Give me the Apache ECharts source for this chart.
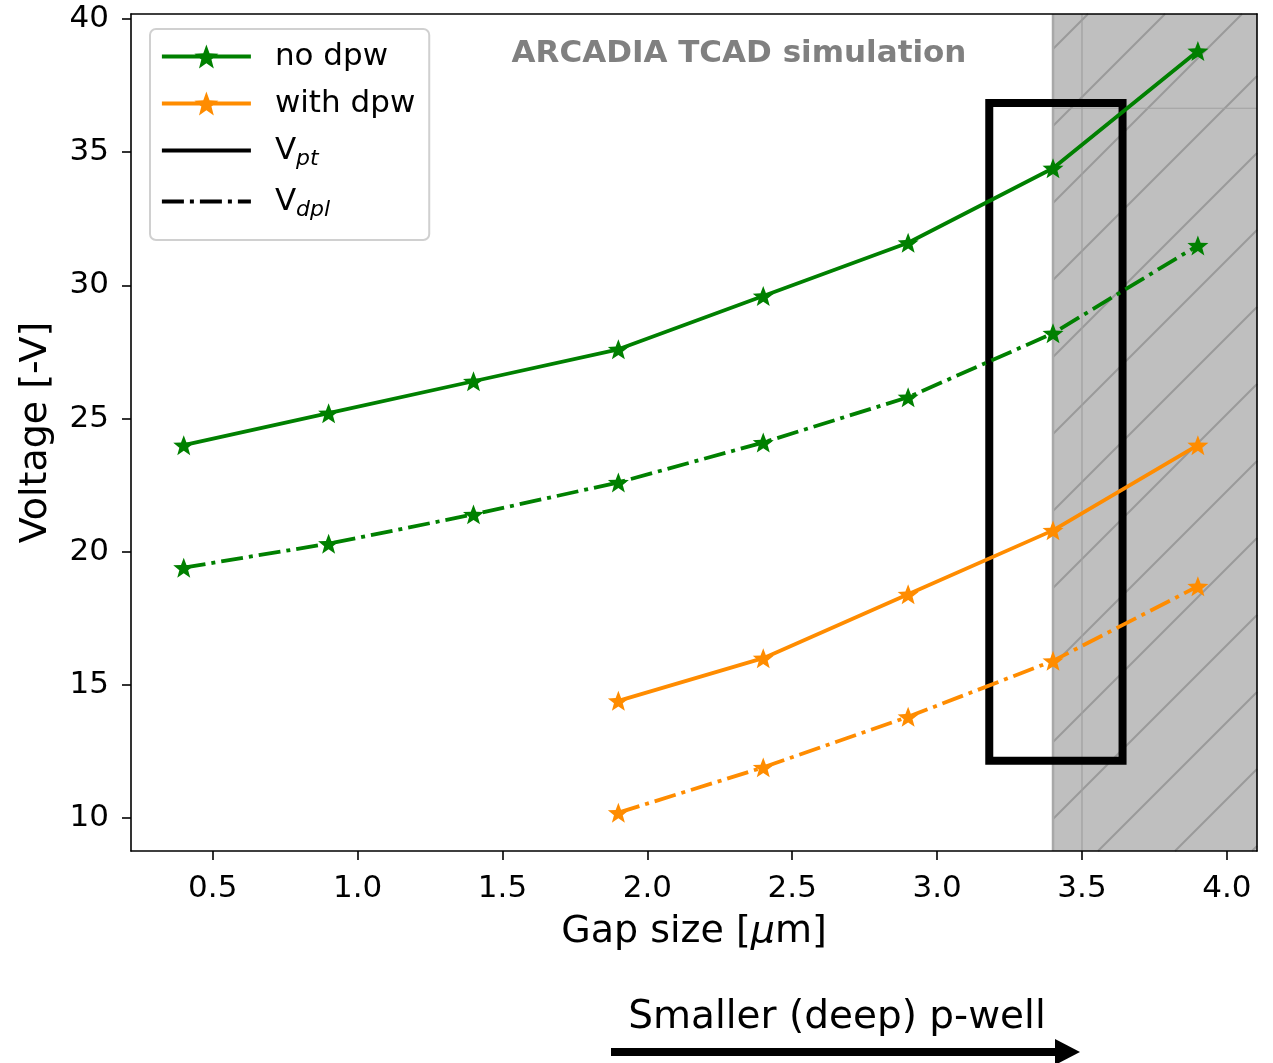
<!DOCTYPE html>
<html>
<head>
<meta charset="utf-8">
<script src="https://cdn.jsdelivr.net/npm/echarts@6/dist/echarts.min.js"></script>
<style>html,body{margin:0;padding:0;background:#fff}#c{width:1273px;height:1063px}</style>
</head>
<body>
<div id="c"></div>
<script>
// ---- data ----
const gapSize = [0.4, 0.9, 1.4, 1.9, 2.4, 2.9, 3.4, 3.9];
const noDpwVpt = [24.0, 25.2, 26.4, 27.6, 29.6, 31.6, 34.4, 38.8];
const noDpwVdpl = [19.4, 20.3, 21.4, 22.6, 24.1, 25.8, 28.2, 31.5];
const gapSizeDpw = [1.9, 2.4, 2.9, 3.4, 3.9];
const withDpwVpt = [14.4, 16.0, 18.4, 20.8, 24.0];
const withDpwVdpl = [10.2, 11.9, 13.8, 15.9, 18.7];
const xTicks = [0.5, 1.0, 1.5, 2.0, 2.5, 3.0, 3.5, 4.0];
const yTicks = [10, 15, 20, 25, 30, 35, 40];
const xRange = [0.218, 4.104];
const yRange = [8.76, 40.19];
const shadedSpan = [3.4, 3.5, 36.65];      // span start, inner ref line x, inner ref line y
const highlightBox = [3.18, 12.15, 3.64, 36.85]; // x0, y0, x1, y1

const pairs = (xs, ys) => xs.map((x, i) => [x, ys[i]]);

function starPath() {
  const pts = [];
  for (let i = 0; i < 10; i++) {
    const r = i % 2 === 0 ? 1 : 0.42;
    const a = -Math.PI / 2 + i * Math.PI / 5;
    pts.push((r * Math.cos(a)).toFixed(4) + ' ' + (r * Math.sin(a)).toFixed(4));
  }
  return 'path://M' + pts.join(' L') + ' Z';
}
const STAR = starPath();
const GREEN = '#008000', ORANGE = '#ff8c00';
const DASHDOT = [22, 6, 4, 6];
const FONT = 'DejaVu Sans';

const chart = echarts.init(document.getElementById('c'), null, {renderer: 'canvas'});

function lineSeries(name, xs, ys, color, dash) {
  return {
    name, type: 'line', data: pairs(xs, ys), z: 5,
    symbol: STAR, symbolSize: 21, symbolKeepAspect: true,
    lineStyle: {color, width: 3.8, type: dash ? DASHDOT : 'solid'},
    itemStyle: {color},
    emphasis: {disabled: true}, animation: false
  };
}

const option = {
  animation: false,
  grid: {left: 131, right: 16, top: 14, bottom: 212},
  xAxis: [{
    type: 'value', min: xRange[0], max: xRange[1], z: 10,
    axisLine: {show: true, onZero: false, lineStyle: {color: '#000', width: 1.6}},
    axisTick: {show: true, length: 9, lineStyle: {color: '#000', width: 1.6}, customValues: xTicks},
    axisLabel: {fontFamily: FONT, fontSize: 31, color: '#000', margin: 22, customValues: xTicks,
      formatter: v => v.toFixed(1)},
    splitLine: {show: false},
    name: 'Gap size [{i|μ}m]', nameLocation: 'middle', nameGap: 62,
    nameTextStyle: {fontFamily: FONT, fontSize: 38, color: '#000',
      rich: {i: {fontFamily: FONT, fontSize: 38, fontStyle: 'italic', color: '#000'}}}
  }, {
    type: 'value', position: 'top', min: xRange[0], max: xRange[1], z: 10,
    axisLine: {show: true, onZero: false, lineStyle: {color: '#000', width: 1.6}},
    axisTick: {show: false}, axisLabel: {show: false}, splitLine: {show: false}
  }],
  yAxis: [{
    type: 'value', min: yRange[0], max: yRange[1], z: 10,
    axisLine: {show: true, onZero: false, lineStyle: {color: '#000', width: 1.6}},
    axisTick: {show: true, length: 9, lineStyle: {color: '#000', width: 1.6}, customValues: yTicks},
    axisLabel: {fontFamily: FONT, fontSize: 31, color: '#000', margin: 22, customValues: yTicks},
    splitLine: {show: false},
    name: 'Voltage [-V]', nameLocation: 'middle', nameGap: 76,
    nameTextStyle: {fontFamily: FONT, fontSize: 38, color: '#000'}
  }, {
    type: 'value', position: 'right', min: yRange[0], max: yRange[1], z: 10,
    axisLine: {show: true, onZero: false, lineStyle: {color: '#000', width: 1.6}},
    axisTick: {show: false}, axisLabel: {show: false}, splitLine: {show: false}
  }],
  legend: {
    orient: 'vertical', left: 150, top: 29,
    data: ['no dpw', 'with dpw', 'Vpt', 'Vdpl'],
    itemWidth: 89, itemHeight: 30, itemGap: 16,
    padding: [12, 14, 19, 10],
    backgroundColor: 'rgba(255,255,255,0.85)',
    borderColor: '#d0d0d0', borderWidth: 2, borderRadius: 6,
    selectedMode: false,
    lineStyle: {width: 3.8},
    textStyle: {fontFamily: FONT, fontSize: 31, color: '#000', padding: [0, 0, 0, 19],
      rich: {
        v: {fontFamily: FONT, fontSize: 31, color: '#000'},
        s: {fontFamily: FONT, fontSize: 22, fontStyle: 'italic', color: '#000', padding: [17, 0, 0, 0]}
      }},
    formatter: n => n === 'Vpt' ? '{v|V}{s|pt}' : (n === 'Vdpl' ? '{v|V}{s|dpl}' : n)
  },
  graphic: [
    {type: 'text', z: 20, x: 739, y: 54,
      style: {text: 'ARCADIA TCAD simulation', fontFamily: FONT, fontSize: 31, fontWeight: 'bold',
        fill: '#808080', align: 'center', verticalAlign: 'middle'}},
    {type: 'text', z: 20, x: 837, y: 1018,
      style: {text: 'Smaller (deep) p-well', fontFamily: FONT, fontSize: 39,
        fill: '#000', align: 'center', verticalAlign: 'middle'}},
    {type: 'rect', z: 20, shape: {x: 611, y: 1048, width: 446, height: 8}, style: {fill: '#000'}},
    {type: 'polygon', z: 20, shape: {points: [[1055, 1039], [1080, 1052], [1055, 1065]]}, style: {fill: '#000'}}
  ],
  series: [
    {
      type: 'custom', name: 'shade', z: 1, silent: true, animation: false,
      data: [shadedSpan],
      renderItem: function (params, api) {
        const cs = params.coordSys;
        const x0 = api.coord([api.value(0), yRange[0]])[0];
        const x1 = cs.x + cs.width, y0 = cs.y, y1 = cs.y + cs.height;
        const children = [{type: 'rect', shape: {x: x0, y: y0, width: x1 - x0, height: y1 - y0},
          style: {fill: '#bfbfbf'}}];
        // hatch '/'
        const step = 77;
        const cStart = x0 + y1 + 45 - step * 20;
        for (let k = 0; k < 60; k++) {
          const c = cStart + k * step;
          const xa = Math.max(x0, c - y1), xb = Math.min(x1, c - y0);
          if (xb > xa) children.push({type: 'line', shape: {x1: xa, y1: c - xa, x2: xb, y2: c - xb},
            style: {stroke: '#9a9a9a', lineWidth: 2}});
        }
        const rx = api.coord([api.value(1), yRange[0]])[0];
        const ry = api.coord([xRange[0], api.value(2)])[1];
        children.push({type: 'line', shape: {x1: rx, y1: y0, x2: rx, y2: y1}, style: {stroke: '#a0a0a0', lineWidth: 1.2}});
        children.push({type: 'line', shape: {x1: x0, y1: ry, x2: x1, y2: ry}, style: {stroke: '#a0a0a0', lineWidth: 1.2}});
        children.push({type: 'line', shape: {x1: x0, y1: y0, x2: x0, y2: y1}, style: {stroke: '#a8a8a8', lineWidth: 2.5}});
        return {type: 'group', children};
      }
    },
    {
      type: 'custom', name: 'box', z: 3, silent: true, animation: false,
      data: [highlightBox],
      renderItem: function (params, api) {
        const p0 = api.coord([api.value(0), api.value(3)]);
        const p1 = api.coord([api.value(2), api.value(1)]);
        return {type: 'rect', shape: {x: p0[0], y: p0[1], width: p1[0] - p0[0], height: p1[1] - p0[1]},
          style: {fill: 'none', stroke: '#000', lineWidth: 8}};
      }
    },
    lineSeries('no dpw', gapSize, noDpwVpt, GREEN, false),
    lineSeries('no dpw dpl', gapSize, noDpwVdpl, GREEN, true),
    lineSeries('with dpw', gapSizeDpw, withDpwVpt, ORANGE, false),
    lineSeries('with dpw dpl', gapSizeDpw, withDpwVdpl, ORANGE, true),
    {name: 'Vpt', type: 'line', data: [], symbol: 'circle', itemStyle: {color: 'rgba(0,0,0,0)', borderWidth: 0},
      lineStyle: {color: '#000', width: 3.8, type: 'solid'}},
    {name: 'Vdpl', type: 'line', data: [], symbol: 'circle', itemStyle: {color: 'rgba(0,0,0,0)', borderWidth: 0},
      lineStyle: {color: '#000', width: 3.8, type: DASHDOT}}
  ]
};
chart.setOption(option);
</script>
</body>
</html>
